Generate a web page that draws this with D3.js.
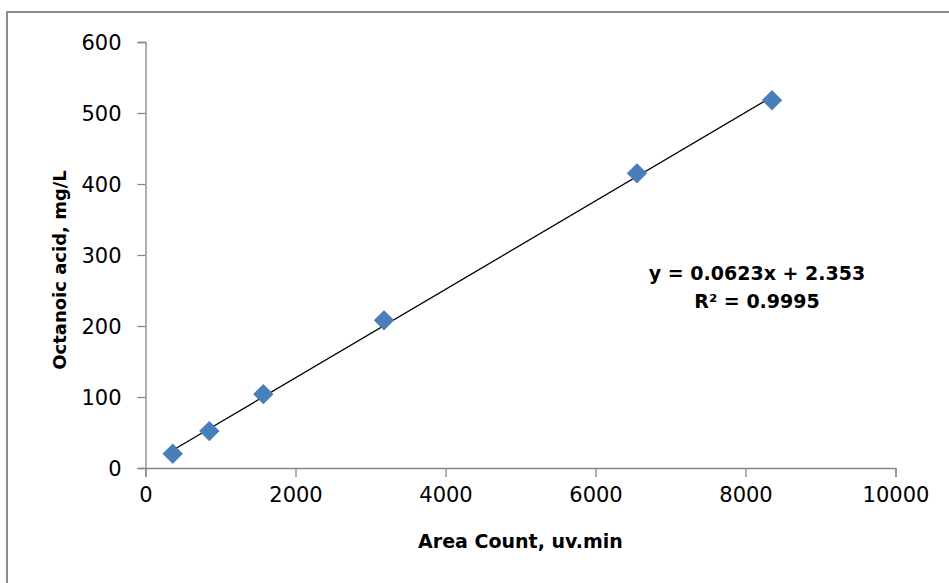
<!DOCTYPE html>
<html>
<head>
<meta charset="utf-8">
<script src="https://cdn.jsdelivr.net/npm/d3@7"></script>
<style>
  body { margin: 0; background: #fff; }
  text { font-family: "DejaVu Sans", sans-serif; fill: #000; }
</style>
</head>
<body>
<svg id="chart"></svg>
<script>
const areaCount = [363, 851, 1571, 3180, 6553, 8353];
const octanoic = [20, 52, 104, 208, 415, 518];
const xTicks = [0, 2000, 4000, 6000, 8000, 10000];
const yTicks = [0, 100, 200, 300, 400, 500, 600];
const slope = 0.0623;
const intercept = 2.353;
const eqLines = ['y = 0.0623x + 2.353', 'R² = 0.9995'];

const width = 949, height = 583;
const margin = {top: 42, right: 53.5, bottom: 115, left: 145.5};

const svg = d3.select('#chart')
  .attr('width', width)
  .attr('height', height);

// outer chart frame (runs off the right/bottom edge)
svg.append('rect')
  .attr('x', 7).attr('y', 12)
  .attr('width', width).attr('height', height)
  .attr('fill', 'none')
  .attr('stroke', '#8c8c8c')
  .attr('stroke-width', 2);

const x = d3.scaleLinear()
  .domain([0, 10000])
  .range([margin.left, width - margin.right]);

const y = d3.scaleLinear()
  .domain([0, 600])
  .range([height - margin.bottom, margin.top]);

const xAxis = svg.append('g')
  .attr('transform', `translate(0,${y(0)})`)
  .call(d3.axisBottom(x).tickValues(xTicks).tickSize(9).tickPadding(10).tickFormat(d3.format('d')));

const yAxis = svg.append('g')
  .attr('transform', `translate(${x(0)},0)`)
  .call(d3.axisLeft(y).tickValues(yTicks).tickSize(8).tickPadding(16).tickFormat(d3.format('d')));

[xAxis, yAxis].forEach(a => {
  a.select('.domain').attr('stroke', '#868686').attr('stroke-width', 1.3);
  a.selectAll('.tick line').attr('stroke', '#868686').attr('stroke-width', 1.3);
  a.selectAll('.tick text')
    .style('font-family', '"DejaVu Sans", sans-serif')
    .style('font-size', '21px')
    .attr('fill', '#222');
});
yAxis.selectAll('.tick text').attr('dy', '0.36em');

// trendline over the data range
const xr = d3.extent(areaCount);
svg.append('line')
  .attr('x1', x(xr[0])).attr('y1', y(slope * xr[0] + intercept))
  .attr('x2', x(xr[1])).attr('y2', y(slope * xr[1] + intercept))
  .attr('stroke', '#000')
  .attr('stroke-width', 1.3);

const points = areaCount.map((d, i) => ({x: d, y: octanoic[i]}));
svg.append('g')
  .selectAll('path')
  .data(points)
  .enter()
  .append('path')
    .attr('d', d3.symbol().type(d3.symbolDiamond2).size(265))
    .attr('transform', d => `translate(${x(d.x)},${y(d.y)})`)
    .attr('fill', '#4a7ebb');

// equation label
svg.append('g')
  .selectAll('text')
  .data(eqLines)
  .enter()
  .append('text')
    .attr('x', 757)
    .attr('y', (d, i) => 280 + i * 28)
    .attr('text-anchor', 'middle')
    .style('font-size', '19px')
    .style('font-weight', 'bold')
    .text(d => d);

svg.append('text')
  .attr('x', (x(0) + x(10000)) / 2)
  .attr('y', 548)
  .attr('text-anchor', 'middle')
  .style('font-size', '19px')
  .style('font-weight', 'bold')
  .text('Area Count, uv.min');

svg.append('text')
  .attr('transform', `translate(66,270) rotate(-90)`)
  .attr('text-anchor', 'middle')
  .style('font-size', '18px')
  .style('font-weight', 'bold')
  .text('Octanoic acid, mg/L');
</script>
</body>
</html>
